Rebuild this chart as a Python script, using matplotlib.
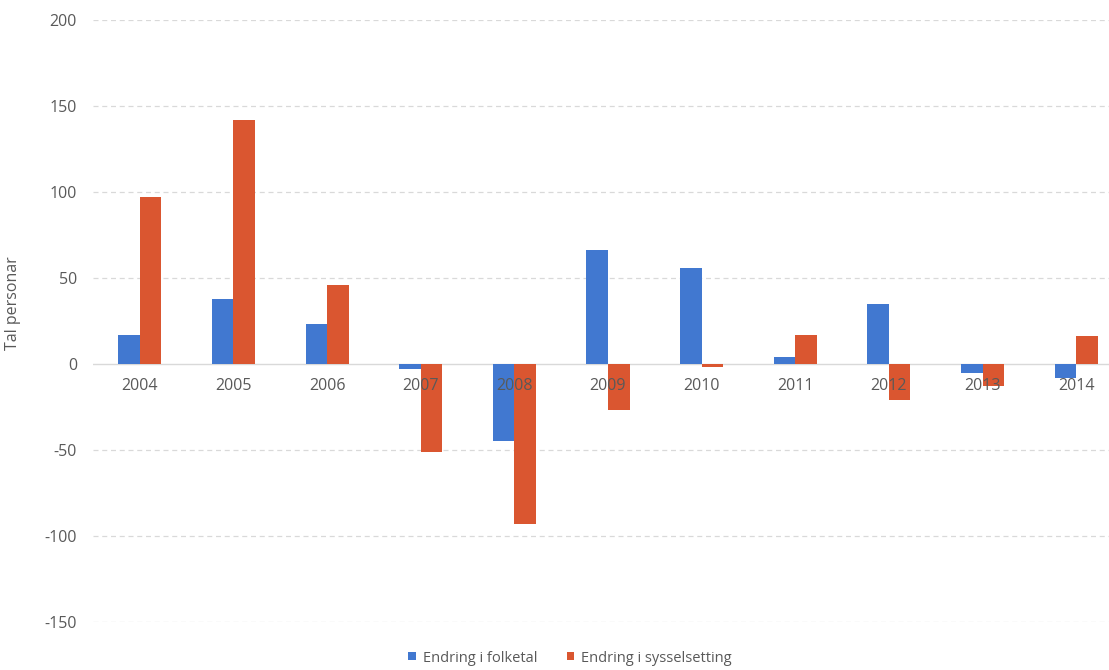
import numpy as np
import matplotlib.pyplot as plt

plt.rcParams['font.family'] = ['Open Sans', 'DejaVu Sans']

# data
years = ['2004', '2005', '2006', '2007', '2008', '2009', '2010', '2011', '2012', '2013', '2014']
folketal = [17, 38, 23, -3, -45, 66, 56, 4, 35, -5, -8]
sysselsetting = [97, 142, 46, -51, -93, -27, -2, 17, -21, -13, 16]
yticks = [-150, -100, -50, 0, 50, 100, 150, 200]

blue = '#4178D0'
red = '#DA5630'
grey_text = '#595959'

fig = plt.figure(figsize=(11.09, 6.70), dpi=100)
# plot area runs a bit past the right edge, as in the cropped original
ax = fig.add_axes([93 / 1109, 48 / 670, 1030 / 1109, 602 / 670])

x = np.arange(len(years))
w = 0.23
ax.bar(x - w / 2, folketal, w, color=blue, label='Endring i folketal', zorder=3)
ax.bar(x + w / 2, sysselsetting, w, color=red, label='Endring i sysselsetting', zorder=3)

ax.set_xlim(-0.5, 10.5)
ax.set_ylim(-150, 200)
ax.set_yticks(yticks)
ax.set_yticklabels([str(v) for v in yticks])

# horizontal dashed grid
for v in yticks:
    if v != 0:
        ax.axhline(v, color='#d9d9d9', lw=0.9, ls=(0, (4, 3)), zorder=1)
ax.axhline(0, color='#d9d9d9', lw=1.0, zorder=2)

# category labels sit on the zero line, drawn over the bars
ax.spines['bottom'].set_position(('data', 0))
for s in ['top', 'right', 'left', 'bottom']:
    ax.spines[s].set_visible(False)
ax.set_xticks(x)
ax.set_xticklabels(years)
ax.xaxis.set_zorder(5)
ax.tick_params(axis='x', length=0, pad=10, labelsize=11.5, labelcolor=grey_text)
ax.tick_params(axis='y', length=0, pad=11.5, labelsize=11.5, labelcolor=grey_text)

ax.set_ylabel('Tal personar', fontsize=11.5, color=grey_text, va='center')
ax.yaxis.set_label_coords(-0.0777, 0.53)

fig.legend(loc='center', bbox_to_anchor=(570 / 1109, 12 / 670), ncol=2, frameon=False,
           fontsize=10.5, labelcolor=grey_text, handlelength=0.5, handleheight=0.5,
           handletextpad=0.5, columnspacing=2.0)

fig.savefig('out.png', dpi=100)
